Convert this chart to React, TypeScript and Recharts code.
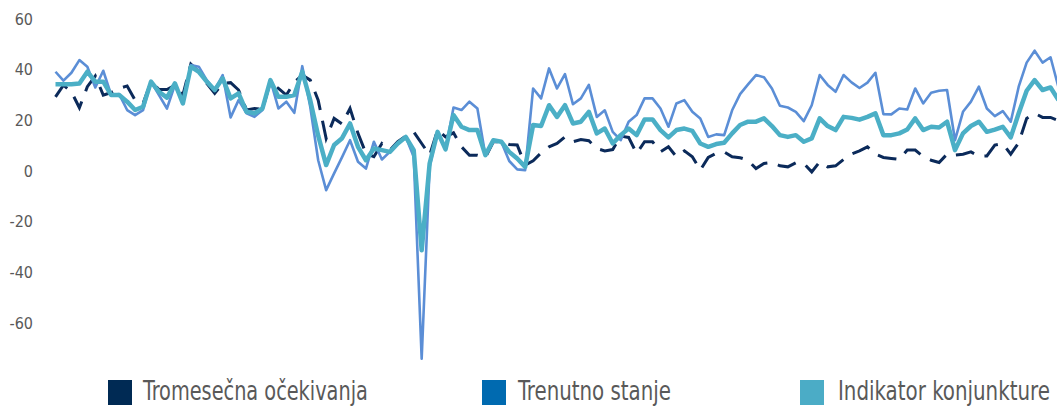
import { LineChart, Line, XAxis, YAxis } from "recharts";

// monthly readings, left to right
const tromesecna = [
  29.3, 33.9, 31.3, 25, 33.3, 37.5, 30, 31, 32.6, 33.6,
  28, 26.7, 35.3, 32.2, 32.2, 33.9, 30, 42.2, 39.2, 34.6,
  30.7, 34.6, 34.9, 32, 24.1, 24.7, 24.3, 35.3, 32.6, 30,
  35, 37.9, 35.9, 28, 12.9, 20.8, 18.6, 24.7, 14.9, 7,
  5.7, 10.9, 8.3, 11.6, 13.8, 15.5, 10.9, 6.3, 16.2, 13.5,
  15.1, 9.6, 6.3, 6.3, 5.4, 11.6, 11.6, 10.5, 10.3, 2.4,
  4.1, 7.2, 9.6, 10.9, 13.5, 11.6, 12.5, 12, 8.9, 8,
  8.5, 13.8, 13.3, 7, 11.6, 11.6, 7.6, 9.6, 5.7, 8,
  5.7, 0.4, 5.4, 7, 7.6, 5.7, 5.3, 4.3, 1, 3,
  3.4, 2.1, 1.7, 3.3, 3, -0.3, 3.7, 1.7, 2.1, 4.6,
  6.8, 8, 9.6, 6.7, 5.4, 5, 4.6, 8.3, 8.3, 5.7,
  4.3, 3.4, 6.7, 6.3, 6.7, 7.6, 5.9, 6, 10.3, 10.9,
  6.7, 11.2, 20.8, 22.8, 21.2, 21.2, 19.9,
];

const trenutno = [
  39.2, 35.7, 38.8, 43.8, 41.2, 33, 39.6, 30, 30.4, 24.1,
  22.1, 24.1, 35.3, 30, 24.7, 34, 26.7, 41.8, 41.2, 35.9,
  32, 37.9, 21.2, 28, 22.8, 21.4, 24.1, 35.9, 24.7, 27.4,
  23, 41.4, 25.4, 4.3, -7.5, -0.9, 5.5, 12.2, 3.7, 1,
  11.6, 4.6, 7.6, 10.9, 13.5, 5.7, -74, 1.7, 15.5, 8.6,
  25.1, 24.1, 27.4, 24.7, 6.3, 12.2, 11.6, 4, 0.7, 0.4,
  32.6, 28.7, 40.5, 32.6, 38.3, 26.4, 28.7, 34, 21.4, 24,
  15.5, 12.2, 19.5, 22.1, 28.7, 28.7, 24.7, 17.5, 26.7, 28,
  23.4, 20.8, 13.5, 14.5, 14.2, 24, 30.4, 34.2, 37.9, 37,
  32.6, 25.8, 25.1, 23.4, 19.7, 26, 37.9, 34, 31.3, 37.9,
  35, 32.8, 34.9, 38.8, 22.5, 22.4, 24.7, 24.3, 32.6, 26.7,
  30.9, 31.7, 32, 12.2, 23.4, 27.4, 33.3, 24.7, 21.7, 23.7,
  19.5, 33.3, 42.8, 47.5, 42.8, 44.9, 33,
];

const indikator = [
  34.3, 34.3, 34.3, 34.6, 39.2, 35.3, 35.3, 30, 30, 27.4,
  24.1, 25.4, 35.3, 31.3, 29, 34.6, 26.7, 41.2, 39.2, 35.3,
  32, 36.6, 28.7, 30.7, 23.4, 22.8, 24.7, 35.9, 29.3, 29.3,
  30, 39.2, 28, 14, 2.4, 10.3, 13, 18.8, 9.6, 4.3,
  8.9, 8.3, 7.6, 10.9, 13.5, 8.3, -31.2, 3, 15.5, 8.6,
  22.1, 17.5, 16.2, 16.2, 6.3, 12.2, 11.6, 7.6, 5, 1.7,
  18.2, 17.8, 26, 21.4, 26, 18.8, 19.5, 23.4, 14.9, 16.8,
  10.9, 14.2, 16.8, 14.2, 20.4, 20.4, 16.2, 13.3, 16.2, 16.8,
  15.9, 10.9, 9.6, 10.7, 11.2, 14.9, 18.2, 19.5, 19.5, 20.8,
  17.8, 14.2, 13.5, 14.2, 11.6, 12.9, 20.8, 17.8, 16.2, 21.4,
  21, 20.3, 21.4, 22.8, 14.2, 14.2, 14.9, 16.4, 20.8, 16.2,
  17.5, 17.2, 19.5, 8.3, 14.9, 17.8, 19.5, 15.5, 16.4, 17.5,
  13.3, 22.8, 31.7, 35.9, 32, 33, 28,
];

const yTicks = [-60, -40, -20, 0, 20, 40, 60];
const seriesNames = ["Tromesečna očekivanja", "Trenutno stanje", "Indikator konjunkture"];

const data = indikator.map((v, i) => ({
  t: i,
  tromesecna: tromesecna[i],
  trenutno: trenutno[i],
  indikator: v,
}));

const GRAY = "#595959";
const NARROW = "'Liberation Sans Narrow', 'DejaVu Sans Condensed', 'Liberation Sans', sans-serif";
const LEGEND_SIZE = 27;

function YTick({ y, payload }: any) {
  return (
    <text x={33} y={y} dy={5.5} textAnchor="end" fill={GRAY} fontSize={16} fontFamily={NARROW}>
      {payload.value}
    </text>
  );
}

// natural width of a legend label, so it can be squeezed to the condensed look
function textWidth(s: string) {
  const ctx = document.createElement("canvas").getContext("2d");
  if (!ctx) return s.length * LEGEND_SIZE * 0.45;
  ctx.font = `${LEGEND_SIZE}px ${NARROW}`;
  return ctx.measureText(s).width;
}

const legendItems = [
  { name: seriesNames[0], swatch: "#002A54", x: 108, tx: 143, len: 225 },
  { name: seriesNames[1], swatch: "#006AB0", x: 482, tx: 518, len: 153 },
  { name: seriesNames[2], swatch: "#4BACC6", x: 800, tx: 838, len: 212 },
];

export default function App() {
  return (
    <div
      style={{
        position: "absolute",
        left: 0,
        top: 0,
        width: 1057,
        height: 407,
        overflow: "hidden",
        background: "#fff",
      }}
    >
      <LineChart
        width={1060}
        height={374}
        data={data}
        margin={{ top: 19, right: 1.5, bottom: 0, left: 0.5 }}
      >
        <XAxis dataKey="t" hide />
        <YAxis
          width={55}
          domain={[-80, 60]}
          ticks={yTicks}
          axisLine={false}
          tickLine={false}
          tick={<YTick />}
          interval={0}
        />
        <Line
          dataKey="tromesecna"
          type="linear"
          stroke="#0B2A5A"
          strokeWidth={3}
          strokeDasharray="19 11"
          dot={false}
          isAnimationActive={false}
        />
        <Line
          dataKey="trenutno"
          type="linear"
          stroke="#5B8ED6"
          strokeWidth={2.6}
          strokeLinejoin="round"
          dot={false}
          isAnimationActive={false}
        />
        <Line
          dataKey="indikator"
          type="linear"
          stroke="#4BAFC6"
          strokeWidth={4.5}
          strokeLinejoin="round"
          dot={false}
          isAnimationActive={false}
        />
      </LineChart>
      <svg width={1057} height={33} style={{ position: "absolute", left: 0, top: 374 }}>
        {legendItems.map((it) => {
          const sx = it.len / textWidth(it.name);
          return (
            <g key={it.name}>
              <rect x={it.x} y={6} width={24} height={25} fill={it.swatch} />
              <text
                transform={`translate(${it.tx},26) scale(${sx},1)`}
                fontSize={LEGEND_SIZE}
                fill={GRAY}
                fontFamily={NARROW}
              >
                {it.name}
              </text>
            </g>
          );
        })}
      </svg>
    </div>
  );
}
